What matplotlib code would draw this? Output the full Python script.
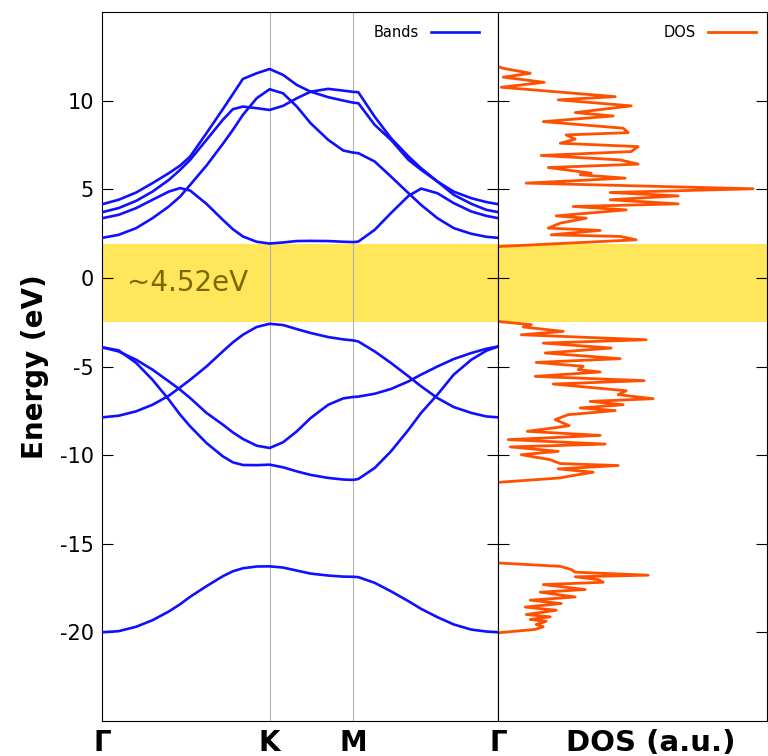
import numpy as np
import matplotlib
matplotlib.use("Agg")
import matplotlib.pyplot as plt

plt.rcParams["axes.unicode_minus"] = False

# high symmetry points along the hexagonal path
kticks = [0.0, 1.333, 2.0, 3.155]
klabels = ["Γ", "K", "M", "Γ"]

# k grid the bands were read on
kpts = [0.0, 0.13, 0.27, 0.40, 0.53, 0.62, 0.70, 0.83, 0.96, 1.04, 1.12, 1.23, 1.333,
        1.44, 1.55, 1.66, 1.80, 1.92, 2.0,
        2.04, 2.17, 2.30, 2.44, 2.54, 2.67, 2.80, 2.94, 3.06, 3.155]

# conduction bands (eV)
cb1 = [3.38, 3.57, 3.95, 4.42, 4.88, 5.08, 4.94, 4.19, 3.29, 2.76, 2.35, 2.05, 1.95,
       2.01, 2.09, 2.10, 2.09, 2.05, 2.03,
       2.06, 2.72, 3.67, 4.64, 5.05, 4.79, 4.23, 3.76, 3.51, 3.38]
cb2 = [2.27, 2.44, 2.82, 3.38, 4.04, 4.60, 5.26, 6.35, 7.57, 8.36, 9.21, 10.15, 10.66,
       10.43, 9.68, 8.74, 7.80, 7.20, 7.08,
       7.05, 6.58, 5.73, 4.79, 4.13, 3.38, 2.82, 2.50, 2.33, 2.27]
cb3 = [4.17, 4.42, 4.83, 5.36, 5.92, 6.35, 6.86, 8.18, 9.53, 10.38, 11.24, 11.56, 11.80,
       11.47, 10.90, 10.52, 10.21, 10.02, 9.90,
       9.87, 8.65, 7.80, 6.67, 6.11, 5.45, 4.88, 4.51, 4.29, 4.17]
cb4 = [3.72, 3.95, 4.36, 4.88, 5.54, 6.11, 6.67, 7.80, 8.93, 9.53, 9.68, 9.59, 9.49,
       9.72, 10.15, 10.52, 10.68, 10.58, 10.51,
       10.49, 9.11, 7.90, 6.86, 6.20, 5.45, 4.70, 4.19, 3.85, 3.72]

# valence bands (eV)
vb1 = [-7.86, -7.77, -7.52, -7.15, -6.64, -6.17, -5.74, -4.99, -4.14, -3.63, -3.20, -2.76, -2.58,
       -2.65, -2.88, -3.10, -3.33, -3.46, -3.52,
       -3.58, -4.14, -4.79, -5.55, -6.11, -6.77, -7.28, -7.61, -7.81, -7.86]
vb2 = [-3.91, -4.14, -4.61, -5.17, -5.83, -6.30, -6.77, -7.61, -8.27, -8.71, -9.08, -9.46, -9.59,
       -9.27, -8.65, -7.90, -7.15, -6.79, -6.71,
       -6.69, -6.53, -6.26, -5.83, -5.45, -4.99, -4.57, -4.23, -3.99, -3.86]
vb3 = [-3.91, -4.08, -4.79, -5.74, -6.86, -7.71, -8.37, -9.31, -10.06, -10.40, -10.55, -10.56, -10.53,
       -10.68, -10.91, -11.11, -11.28, -11.37, -11.39,
       -11.34, -10.72, -9.78, -8.56, -7.61, -6.58, -5.45, -4.61, -4.10, -3.86]
vb4 = [-19.99, -19.93, -19.68, -19.31, -18.82, -18.41, -17.99, -17.39, -16.83, -16.55, -16.38, -16.28, -16.27,
       -16.34, -16.51, -16.68, -16.79, -16.85, -16.86,
       -16.88, -17.20, -17.68, -18.24, -18.67, -19.14, -19.55, -19.84, -19.95, -19.99]
bands = [cb1, cb2, cb3, cb4, vb1, vb2, vb3, vb4]

# DOS, three energy windows (energy in eV, dos in a.u.)
e_cond = [11.93, 11.84, 11.56, 11.34, 11.05, 10.77, 10.24, 10.06, 9.72, 9.34, 9.15, 8.83, 8.46,
          8.21, 8.08, 7.84, 7.61, 7.42, 7.14, 6.92, 6.67, 6.43, 6.24, 5.92, 5.83, 5.64, 5.36,
          5.04, 4.83, 4.64, 4.42, 4.19, 4.04, 3.85, 3.51, 3.38, 3.10, 2.82, 2.69, 2.44, 2.35,
          2.16, 1.78]
d_cond = [0.0, 0.05, 0.32, 0.05, 0.46, 0.03, 1.17, 0.60, 1.33, 0.77, 1.15, 0.45, 1.25,
          1.30, 0.68, 0.77, 0.62, 1.40, 1.33, 0.43, 1.22, 1.40, 0.50, 0.93, 0.82, 1.27, 0.28,
          2.55, 1.12, 1.80, 1.12, 1.80, 0.75, 1.28, 0.58, 0.88, 0.62, 0.50, 1.02, 0.53, 1.22,
          1.38, 0.0]
e_val = [-2.45, -2.63, -2.76, -3.01, -3.20, -3.48, -3.67, -3.95, -4.23, -4.55, -4.76, -4.98, -5.17,
         -5.30, -5.55, -5.79, -5.98, -6.36, -6.58, -6.81, -6.96, -7.15, -7.33, -7.48, -7.71,
         -7.99, -8.33, -8.46, -8.65, -8.88, -9.12, -9.37, -9.53, -9.78, -9.97, -10.25, -10.47,
         -10.58, -10.77, -10.96, -11.19, -11.28, -11.53]
d_val = [0.0, 0.33, 0.25, 0.65, 0.23, 1.48, 0.45, 1.13, 0.47, 1.22, 0.38, 0.85, 0.80,
         1.02, 0.37, 1.46, 0.55, 1.28, 1.20, 1.55, 0.92, 1.25, 0.82, 1.17, 0.70,
         0.57, 0.71, 0.55, 0.29, 1.02, 0.10, 1.07, 0.12, 0.60, 0.23, 0.52, 0.62,
         1.20, 0.60, 0.95, 0.70, 0.62, 0.0]
e_deep = [-16.08, -16.27, -16.45, -16.60, -16.77, -16.86, -17.02, -17.17, -17.30, -17.58, -17.73,
          -18.00, -18.18, -18.37, -18.57, -18.75, -18.99, -19.12, -19.27, -19.37, -19.55,
          -19.68, -19.83, -20.02]
d_deep = [0.0, 0.62, 0.73, 0.77, 1.50, 0.77, 1.00, 1.05, 0.45, 0.87, 0.42,
          0.77, 0.32, 0.63, 0.27, 0.58, 0.28, 0.52, 0.32, 0.48, 0.38,
          0.45, 0.37, 0.0]

gap_top, gap_bot = 1.93, -2.50
gap_text = "~4.52eV"

fig = plt.figure(figsize=(7.68, 7.56), dpi=100)
ax1 = fig.add_axes([0.1332, 0.0463, 0.5156, 0.9374])
ax2 = fig.add_axes([0.6488, 0.0463, 0.3500, 0.9374])

yellow = "#ffe65a"

# band structure
ax1.axhspan(gap_bot, gap_top, color=yellow, lw=0, zorder=0)
for k in kticks[1:-1]:
    ax1.axvline(k, color="#b4b4b4", lw=0.8, zorder=1)
for i, b in enumerate(bands):
    ax1.plot(kpts, b, color="#1010ff", lw=1.9, zorder=3, solid_joinstyle="round",
             label="Bands" if i == 0 else None)
ax1.text(0.2, (gap_top + gap_bot) / 2, gap_text, fontsize=20, color="#7a6900",
         va="center", ha="left", zorder=4)
ax1.set_xlim(kticks[0], kticks[-1])
ax1.set_ylim(-25, 15)
ax1.set_xticks(kticks)
ax1.set_xticklabels(klabels, fontsize=20, fontweight="bold")
ax1.set_yticks([-20, -15, -10, -5, 0, 5, 10])
ax1.tick_params(axis="x", length=0, pad=6)
ax1.tick_params(axis="y", direction="in", left=True, right=True, length=8,
                labelsize=15, pad=6)
ax1.set_ylabel("Energy (eV)", fontsize=20, fontweight="bold", labelpad=8)
ax1.legend(loc="upper right", bbox_to_anchor=(0.977, 0.997), frameon=False,
           markerfirst=False, fontsize=10.5, handlelength=3.3, borderaxespad=0.3)

# DOS
ax2.axhspan(gap_bot, gap_top, color=yellow, lw=0, zorder=0)
dos_col = "#ff5000"
ax2.plot(d_cond, e_cond, color=dos_col, lw=2, label="DOS")
ax2.plot(d_val, e_val, color=dos_col, lw=2)
ax2.plot(d_deep, e_deep, color=dos_col, lw=2)
ax2.set_xlim(0, 2.69)
ax2.set_ylim(-25, 15)
ax2.set_xticks([])
ax2.set_yticks([-20, -15, -10, -5, 0, 5, 10])
ax2.tick_params(axis="y", direction="in", left=True, right=True, length=8,
                labelleft=False)
ax2.set_xlabel("DOS (a.u.)", fontsize=21, fontweight="bold", labelpad=6)
ax2.xaxis.label.set_x(0.569)
ax2.legend(loc="upper right", bbox_to_anchor=(0.996, 0.997), frameon=False,
           markerfirst=False, fontsize=10.5, handlelength=3.3, borderaxespad=0.3)

fig.savefig("out.png", dpi=100)
